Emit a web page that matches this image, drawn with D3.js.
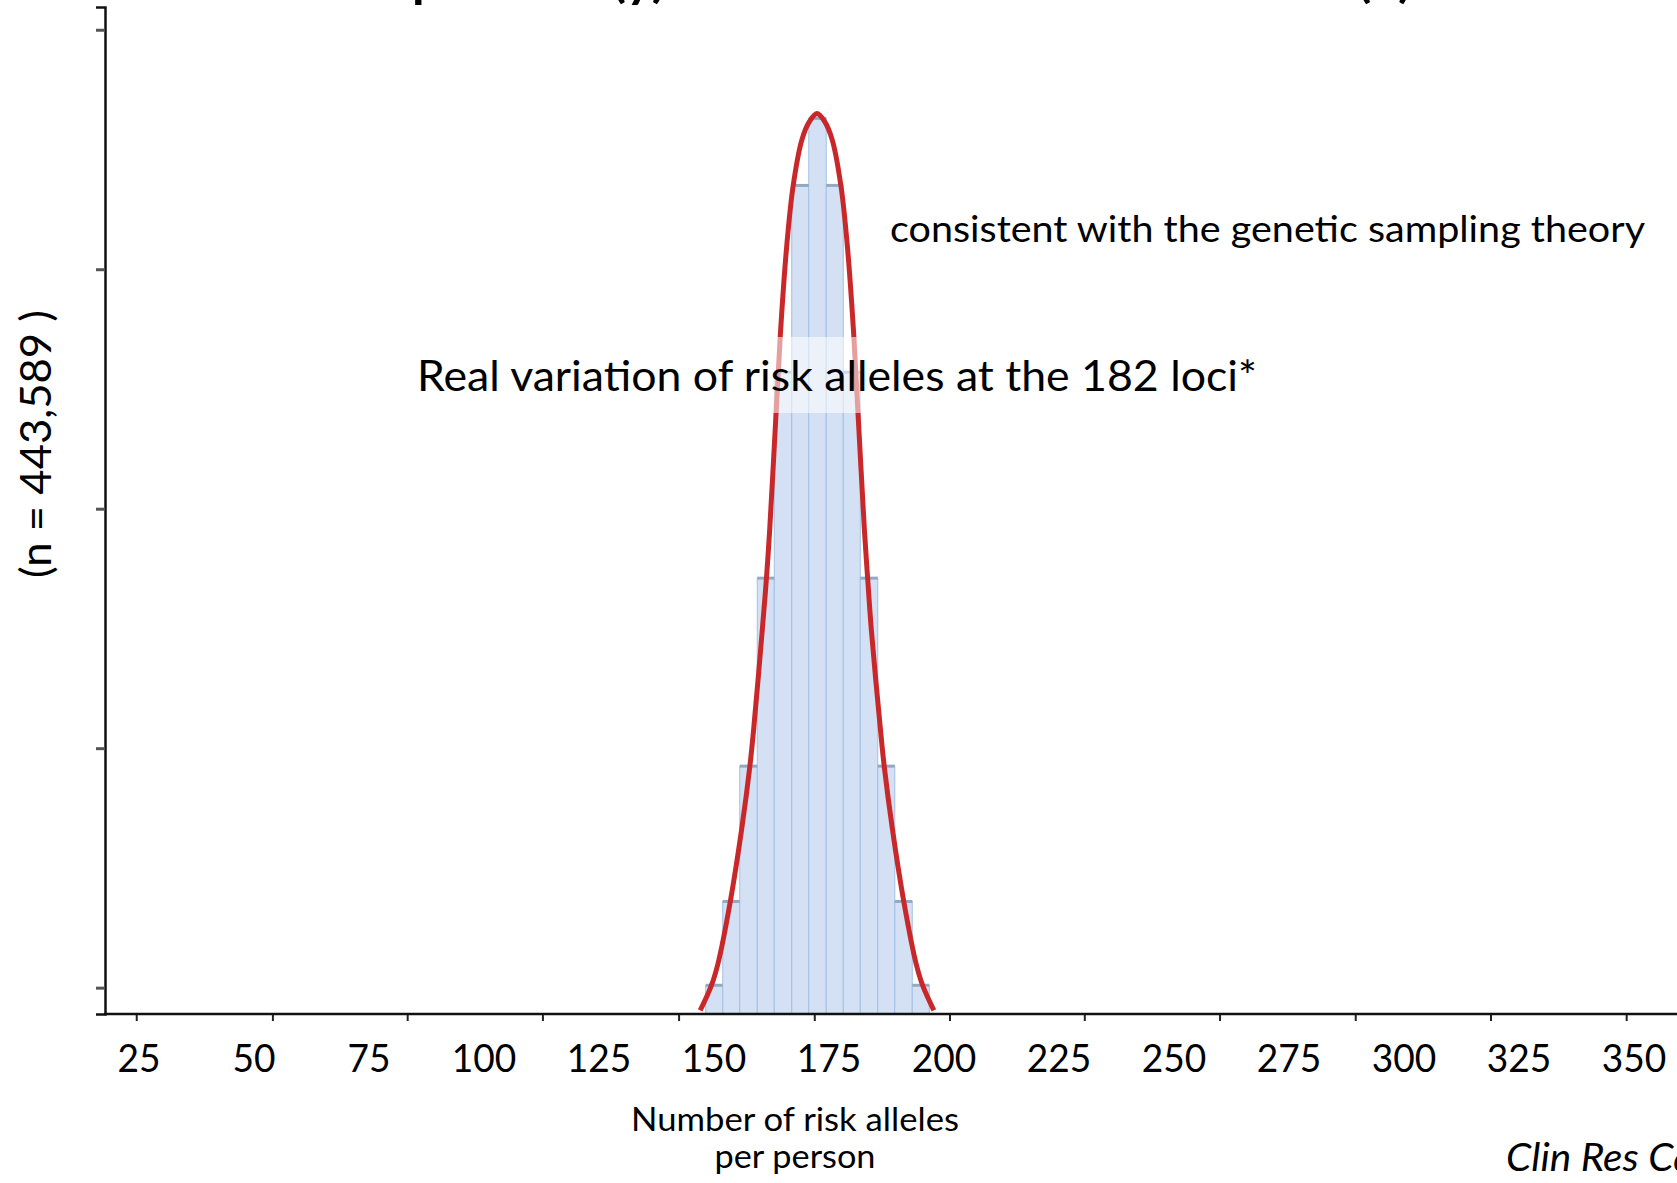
<!DOCTYPE html>
<html>
<head>
<meta charset="utf-8">
<script src="https://cdn.jsdelivr.net/npm/d3@7"></script>
<style>
  html, body { margin: 0; padding: 0; background: #fff; }
  svg { display: block; font-family: Lato, "Open Sans", sans-serif; }
</style>
</head>
<body>
<div id="container"></div>
<script>
// values
const xLabels = [25, 50, 75, 100, 125, 150, 175, 200, 225, 250, 275, 300, 325, 350];
const xTickValues = [24.4, 54.0, 83.3, 112.7, 142.3, 171.8, 201.2, 230.5, 259.9, 289.4, 318.8, 348.3];
const yTickValues = [0, 20000, 40000, 60000, 80000];

// histogram: bin edges (risk alleles) and persons per bin
const binEdges = [148.2, 151.9, 155.6, 159.4, 163.1, 166.9, 170.6, 174.4, 178.1, 181.8, 185.6, 189.3, 193.1, 196.8];
const binCounts = [200, 7200, 18500, 34200, 51400, 67000, 72600, 67000, 51400, 34200, 18500, 7200, 200];

// fitted red curve
const curveX = [147.0, 149.4, 150.9, 153.5, 156.0, 157.8, 158.6, 160.5, 161.4, 162.1, 163.3, 164.4, 165.8, 167.2, 169.1, 170.7,
                172.4,
                174.1, 175.7, 177.6, 179.0, 180.4, 181.5, 182.7, 183.4, 184.2, 186.2, 187.0, 188.8, 191.3, 193.9, 195.4, 197.8];
const curveY = [-1900, 140, 2060, 7100, 13200, 18500, 21500, 29900, 34200, 38200, 46600, 54400, 61900, 66950, 70800, 72300,
                73000,
                72300, 70800, 66950, 61900, 54400, 46600, 38200, 34200, 29900, 21500, 18500, 13200, 7100, 2060, 140, -1900];

const W = 1677, H = 1183;

const svg = d3.select('#container')
    .append('svg')
    .attr('width', W)
    .attr('height', H);

const xScale = d3.scaleLinear().domain([25, 350]).range([139, 1634]);
const yScale = d3.scaleLinear().domain([-2200, 81900]).range([1014, 7]);
const base = yScale.range()[0];
const axisX = 105;

// title line, mostly above the page edge
svg.append('text')
    .attr('x', 352)
    .attr('y', -3)
    .attr('textLength', 1060)
    .attr('lengthAdjust', 'spacingAndGlyphs')
    .style('font-size', '46px')
    .style('font-weight', 'bold')
    .text('Population (y) and the number of risk alleles (x)');

// bars
const bins = binCounts.map((c, i) => ({ lo: binEdges[i], hi: binEdges[i + 1], n: c }));

svg.selectAll('.bar')
    .data(bins)
    .enter()
    .append('rect')
    .attr('class', 'bar')
    .attr('x', d => xScale(d.lo))
    .attr('width', d => xScale(d.hi) - xScale(d.lo))
    .attr('y', d => yScale(d.n))
    .attr('height', d => base - yScale(d.n))
    .style('fill', '#d4e1f4')
    .style('stroke', '#a3c0e2')
    .style('stroke-width', 1);

svg.selectAll('.cap')
    .data(bins)
    .enter()
    .append('line')
    .attr('class', 'cap')
    .attr('x1', d => xScale(d.lo))
    .attr('x2', d => xScale(d.hi))
    .attr('y1', d => yScale(d.n))
    .attr('y2', d => yScale(d.n))
    .style('stroke', '#93a9c2')
    .style('stroke-width', 3);

// red curve
const line = d3.line()
    .x(d => xScale(d[0]))
    .y(d => yScale(d[1]))
    .curve(d3.curveCatmullRom.alpha(0.5));

svg.append('path')
    .datum(curveX.map((v, i) => [v, curveY[i]]))
    .attr('d', line)
    .style('fill', 'none')
    .style('stroke', '#c9282b')
    .style('stroke-width', 5)
    .style('stroke-linejoin', 'round');

// axes
const xAxis = d3.axisBottom(xScale).tickValues(xTickValues).tickSize(7).tickFormat('');
const yAxis = d3.axisLeft(yScale).tickValues(yTickValues).tickSize(9).tickFormat('');

const gx = svg.append('g')
    .attr('transform', 'translate(0,' + base + ')')
    .call(xAxis);
gx.select('.domain').remove();
gx.selectAll('.tick line').style('stroke', '#222').style('stroke-width', 2);

svg.append('line')
    .attr('x1', axisX - 1).attr('x2', W)
    .attr('y1', base).attr('y2', base)
    .style('stroke', '#111').style('stroke-width', 2.5);

const gy = svg.append('g')
    .attr('transform', 'translate(' + axisX + ',0)')
    .call(yAxis);
gy.select('.domain').style('stroke', '#111').style('stroke-width', 2.5);
gy.selectAll('.tick line').style('stroke', '#555').style('stroke-width', 3);

// tick labels (typed on the slide, one per 25)
svg.selectAll('.xlab')
    .data(xLabels)
    .enter()
    .append('text')
    .attr('class', 'xlab')
    .attr('x', d => xScale(d))
    .attr('y', 1072)
    .attr('text-anchor', 'middle')
    .attr('textLength', d => String(d).length * 21.5)
    .attr('lengthAdjust', 'spacingAndGlyphs')
    .style('font-size', '38px')
    .text(d => d);

// axis titles
svg.append('text')
    .attr('transform', 'translate(51,444) rotate(-90)')
    .attr('text-anchor', 'middle')
    .attr('textLength', 268)
    .attr('lengthAdjust', 'spacingAndGlyphs')
    .style('font-size', '42px')
    .text('(n = 443,589 )');

svg.append('text')
    .attr('x', 795)
    .attr('y', 1131)
    .attr('text-anchor', 'middle')
    .attr('textLength', 328)
    .attr('lengthAdjust', 'spacingAndGlyphs')
    .style('font-size', '32px')
    .text('Number of risk alleles');

svg.append('text')
    .attr('x', 795)
    .attr('y', 1168)
    .attr('text-anchor', 'middle')
    .attr('textLength', 161)
    .attr('lengthAdjust', 'spacingAndGlyphs')
    .style('font-size', '32px')
    .text('per person');

// annotations
svg.append('text')
    .attr('x', 890)
    .attr('y', 242)
    .attr('textLength', 755)
    .attr('lengthAdjust', 'spacingAndGlyphs')
    .style('font-size', '37px')
    .text('consistent with the genetic sampling theory');

svg.append('rect')
    .attr('x', 417)
    .attr('y', 337)
    .attr('width', 840)
    .attr('height', 76)
    .style('fill', '#fff')
    .style('opacity', 0.55);

svg.append('text')
    .attr('x', 417)
    .attr('y', 391)
    .attr('textLength', 840)
    .attr('lengthAdjust', 'spacingAndGlyphs')
    .style('font-size', '43px')
    .text('Real variation of risk alleles at the 182 loci*');

svg.append('text')
    .attr('x', 1506)
    .attr('y', 1171)
    .attr('textLength', 262)
    .attr('lengthAdjust', 'spacingAndGlyphs')
    .style('font-size', '38px')
    .style('font-style', 'italic')
    .text('Clin Res Cardiol');
</script>
</body>
</html>
